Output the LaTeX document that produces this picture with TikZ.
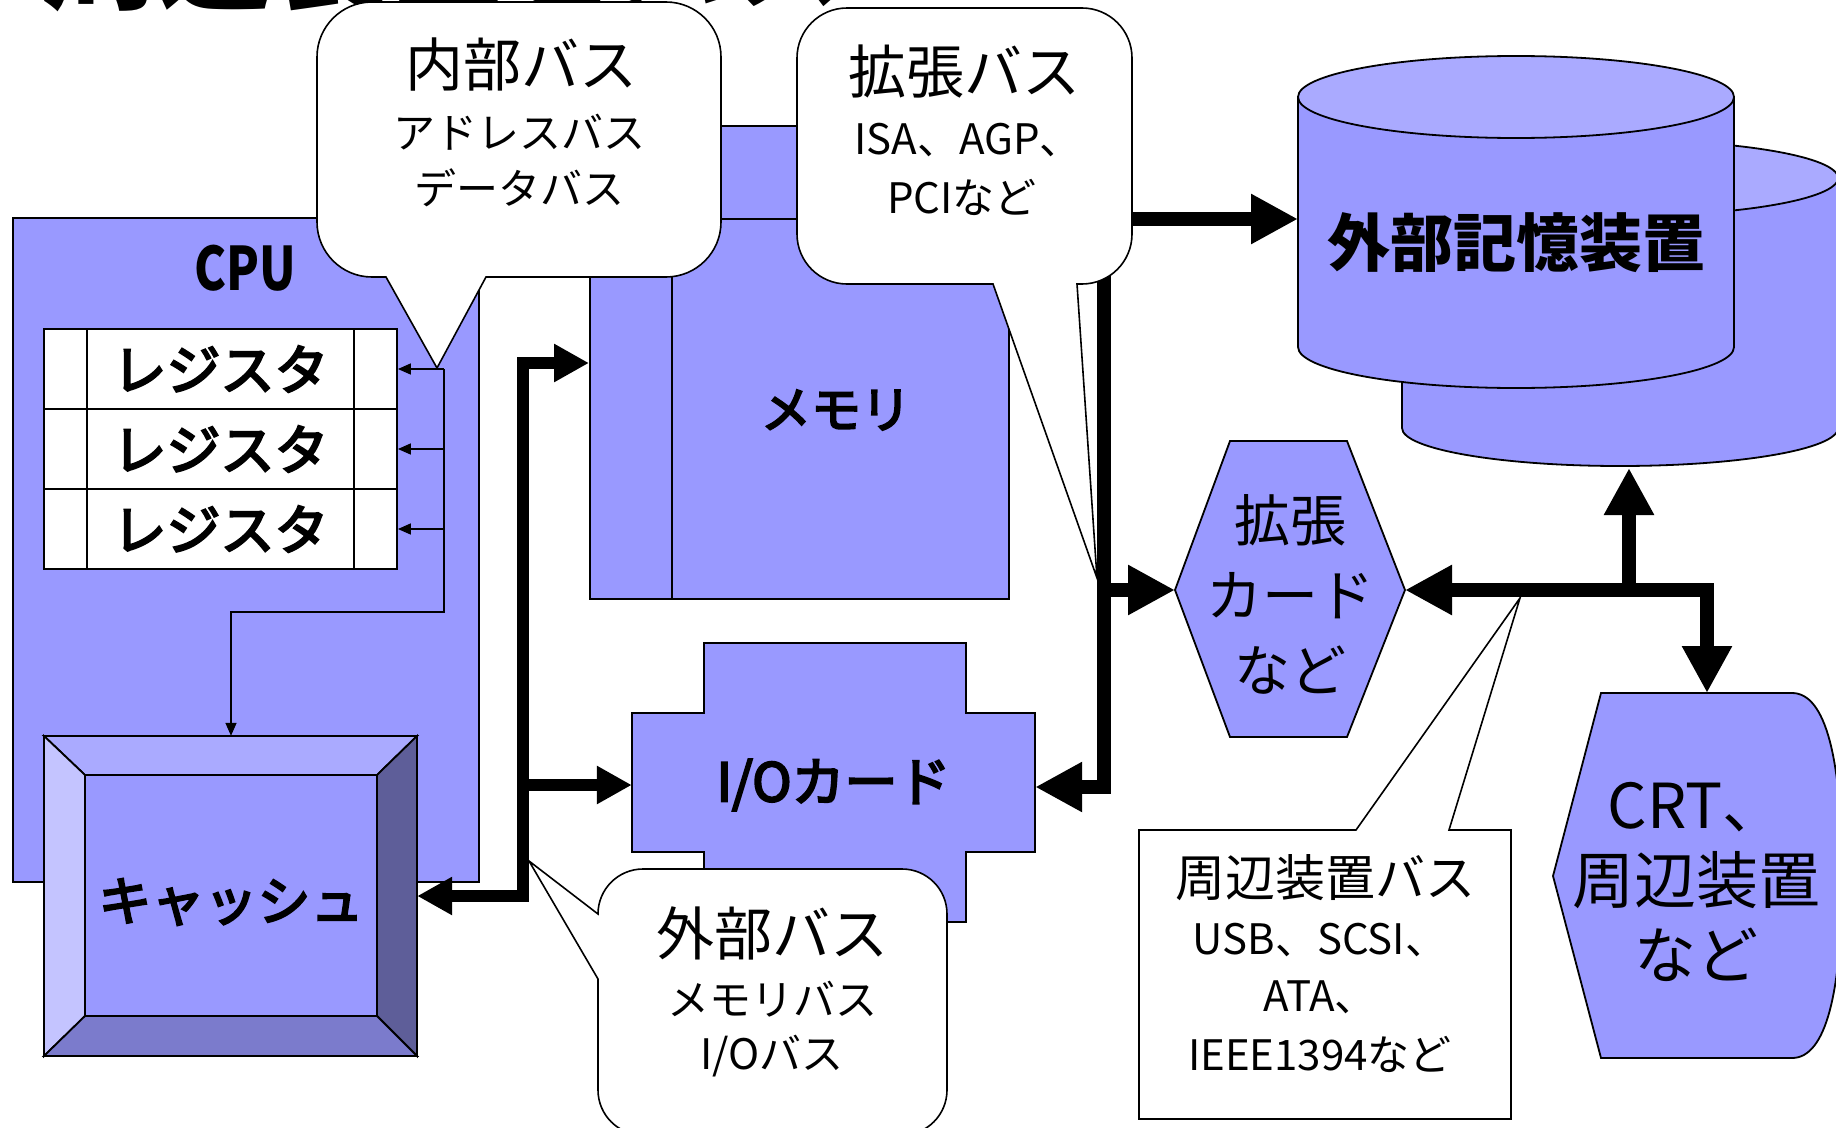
\documentclass[tikz,border=0pt]{standalone}
\usepackage{fontspec}
\usepackage{graphicx}
\setmainfont{Noto Sans CJK JP}
\newfontfamily\medfont{Noto Sans CJK JP}[FakeBold=4]
\usetikzlibrary{arrows.meta}
\definecolor{bfill}{HTML}{9999FF}
\definecolor{tfill}{HTML}{AAAAFF}
\definecolor{bevL}{HTML}{C4C4FF}
\definecolor{bevR}{HTML}{5E5E99}
\definecolor{bevB}{HTML}{7B7BCC}
\newcommand\myfs[1]{\fontsize{#1}{#1}\selectfont}
\newcommand\myfsl[2]{\fontsize{#1}{#2}\selectfont}
\begin{document}
\begin{tikzpicture}[x=1pt,y=-1pt,line join=miter,
  shp/.style={draw=black,line width=1.8pt},
  txt/.style={inner sep=0pt,align=center},
  thinarr/.style={line width=1.6pt,-{Triangle[length=13pt,width=11pt]}},
  thinln/.style={line width=1.6pt},
  busL/.style={line width=12pt,arrows={Triangle[length=35pt,width=36pt]-Triangle[length=35pt,width=36pt]}},
  busLone/.style={line width=12pt,arrows={-Triangle[length=35pt,width=36pt]}},
  busR/.style={line width=14pt,arrows={Triangle[length=47pt,width=47pt]-Triangle[length=47pt,width=47pt]}},
  busRone/.style={line width=14pt,arrows={-Triangle[length=47pt,width=47pt]}},
  callout/.style={draw=black,line width=1.6pt,fill=white}]
\useasboundingbox (0,0) rectangle (1836,1127);
\clip (0,0) rectangle (1836,1127);

% title (cut off at the top, as in the reference)
\node[anchor=base west,inner sep=0pt,font=\bfseries\myfs{115}] (title) at (42,1) {周辺装置とバス};

% CPU
\node[shp,fill=bfill,minimum width=466pt,minimum height=664pt,inner sep=0pt,anchor=north west] (cpu) at (12,217) {};
\node[txt,font=\bfseries\myfs{60}] (cpulabel) at (245,268) {\scalebox{0.8}[1]{CPU}};
\foreach \i/\yy in {1/369,2/449,3/529}
  \node[shp,fill=white,minimum width=353pt,minimum height=80pt,inner sep=0pt,font=\medfont\myfs{54}] (reg\i) at (220.5,\yy) {レジスタ};
\draw[shp] (87,329) -- (87,569) (354,329) -- (354,569);

% cache (bevel)
\node[minimum width=373pt,minimum height=320pt,inner sep=0pt] (cache) at (230.5,896) {};
\path[shp,fill=tfill] (44,736) -- (417,736) -- (377,775) -- (85,775) -- cycle;
\path[shp,fill=bevL] (44,736) -- (85,775) -- (85,1016) -- (44,1056) -- cycle;
\path[shp,fill=bevR] (417,736) -- (417,1056) -- (377,1016) -- (377,775) -- cycle;
\path[shp,fill=bevB] (44,1056) -- (417,1056) -- (377,1016) -- (85,1016) -- cycle;
\path[shp,fill=bfill] (85,775) rectangle (377,1016);
\node[txt,font=\medfont\myfs{53}] (cachetxt) at (231,902) {キャッシュ};

% register connectors
\coordinate (tap1) at (444,369);
\coordinate (tap2) at (444,449);
\coordinate (tap3) at (444,529);
\coordinate (tapb) at (444,612);
\coordinate (tapc) at (231,612);
\draw[thinarr] (tap1) -- (reg1.east);
\draw[thinarr] (tap2) -- (reg2.east);
\draw[thinarr] (tap3) -- (reg3.east);
\draw[thinarr] (tap1) -- (tapb) -- (tapc) -- (tapc |- cache.north);

% memory
\node[shp,fill=bfill,minimum width=419pt,minimum height=473pt,inner sep=0pt,anchor=north west] (memory) at (589,125) {};
\draw[shp] (672,125) -- (672,598) (589,219) -- (1008,219);
\node[txt,font=\medfont\myfs{50}] (memtxt) at (836,410) {メモリ};

% I/O card
\path[shp,fill=bfill] (704,643) -- (966,643) -- (966,713) -- (1035,713) -- (1035,852) -- (966,852) -- (966,922) -- (704,922) -- (704,852) -- (632,852) -- (632,713) -- (704,713) -- cycle;
\node[txt,minimum width=403pt,minimum height=279pt,font=\medfont\myfs{53}] (io) at (833.5,785) {I/Oカード};

% external bus (left)
\coordinate (lbtop) at (523,363);
\coordinate (lbbot) at (523,896);
\coordinate (lbio) at (523,785);
\draw[busL] (lbtop -| memory.west) -- (lbtop) -- (lbbot) -- (cache.east);
\draw[busLone] (lbio) -- (io.west);

% expansion bus (right)
\coordinate (rbtop) at (1104,219);
\coordinate (rbbot) at (1104,787);
\coordinate (rbhex) at (1104,590);
\coordinate (diskL) at (1298,219);
\coordinate (hexW) at (1175,590);
\coordinate (hexE) at (1405,590);
\draw[busR] (io.east |- rbbot) -- (rbbot) -- (rbtop) -- (diskL);
\draw[busRone] (rbhex) -- (hexW);

% external storage (two cylinders)
\path[shp,fill=bfill] (1402,178) -- (1402,428) arc[start angle=180,end angle=0,x radius=218,y radius=38] -- (1838,178) -- cycle;
\path[shp,fill=tfill] (1620,178) ellipse[x radius=218,y radius=38];
\path[shp,fill=bfill] (1298,97) -- (1298,347) arc[start angle=180,end angle=0,x radius=218,y radius=41] -- (1734,97) -- cycle;
\path[shp,fill=tfill] (1516,97) ellipse[x radius=218,y radius=41];
\node[txt,font=\bfseries\myfs{63}] (disk) at (1516,243) {外部記憶装置};

% expansion card hexagon
\path[shp,fill=bfill] (1230,441) -- (1347,441) -- (hexE) -- (1347,737) -- (1230,737) -- (hexW) -- cycle;
\node[txt,font=\myfsl{56}{75}] (hex) at (1290,594) {拡張\\カード\\など};

% CRT display shape
\path[shp,fill=bfill] (1601,693) -- (1792,693) .. controls (1826,693) and (1842,760) .. (1842,876) .. controls (1842,992) and (1826,1058) .. (1792,1058) -- (1601,1058) -- (1553,876) -- cycle;
\node[txt,font=\myfsl{62}{75}] (crt) at (1696,882) {CRT、\\周辺装置\\など};

% peripheral bus
\coordinate (pbc) at (1707,590);
\coordinate (pbu) at (1629,590);
\coordinate (crtT) at (1707,693);
\coordinate (diskB) at (1629,468);
\draw[busR] (hexE) -- (pbc) -- (crtT);
\draw[busRone] (pbu) -- (diskB);

% callout: internal bus
\path[callout] (386,277) -- (372,277) arc[start angle=90,end angle=180,radius=55] -- (317,57) arc[start angle=180,end angle=270,radius=55] -- (666,2) arc[start angle=270,end angle=360,radius=55] -- (721,222) arc[start angle=0,end angle=90,radius=55] -- (486,277) -- (437,368) -- cycle;
\node[txt,font=\myfs{58}] (ib1) at (521,65) {内部バス};
\node[txt,font=\myfs{42}] (ib2) at (519,132) {アドレスバス};
\node[txt,font=\myfs{42}] (ib3) at (519,188) {データバス};

% callout: expansion bus
\path[callout] (993,284) -- (847,284) arc[start angle=90,end angle=180,radius=50] -- (797,58) arc[start angle=180,end angle=270,radius=50] -- (1082,8) arc[start angle=270,end angle=360,radius=50] -- (1132,234) arc[start angle=0,end angle=90,radius=50] -- (1077,284) -- (1097,578) -- cycle;
\node[txt,font=\myfs{58}] (eb1) at (964,72) {拡張バス};
\node[txt,font=\myfs{42}] (eb2) at (968,140) {ISA、AGP、};
\node[txt,font=\myfs{42}] (eb3) at (962,197) {PCIなど};

% callout: external bus
\path[callout] (598,914) -- (529,861) -- (598,979) -- (598,1090) arc[start angle=180,end angle=90,radius=45] -- (902,1135) arc[start angle=90,end angle=0,radius=45] -- (947,914) arc[start angle=0,end angle=-90,radius=45] -- (643,869) arc[start angle=270,end angle=180,radius=45] -- cycle;
\node[txt,font=\myfs{58}] (xb1) at (772,933) {外部バス};
\node[txt,font=\myfs{42}] (xb2) at (772,999) {メモリバス};
\node[txt,font=\myfs{42}] (xb3) at (772,1056) {I/Oバス};

% callout: peripheral bus
\path[callout] (1139,830) -- (1356,830) -- (1520,598) -- (1449,830) -- (1511,830) -- (1511,1119) -- (1139,1119) -- cycle;
\node[txt,font=\myfs{50}] (pb1) at (1325,878) {周辺装置バス};
\node[txt,font=\myfs{42}] (pb2) at (1320,940) {USB、SCSI、};
\node[txt,font=\myfs{42}] (pb3) at (1320,997) {ATA、};
\node[txt,font=\myfs{42}] (pb4) at (1320,1054) {IEEE1394など};
\end{tikzpicture}
\end{document}
